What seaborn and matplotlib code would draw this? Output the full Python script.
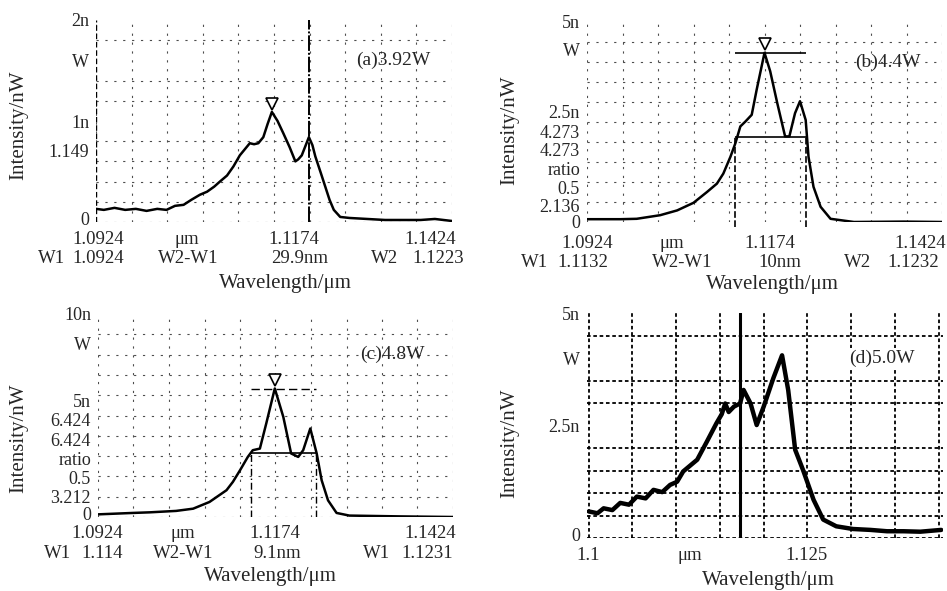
import numpy as np
import pandas as pd
import seaborn as sns
import matplotlib.pyplot as plt
import matplotlib.transforms as mtransforms

# spectra (wavelength in um, intensity in nW)
wl_a = [1.0924, 1.0935, 1.0950, 1.0965, 1.0980, 1.0995, 1.1010, 1.1023, 1.1035, 1.1047,
        1.1058, 1.1070, 1.1080, 1.1090, 1.1098, 1.1108, 1.1117, 1.1126, 1.1133, 1.1140,
        1.1146, 1.1152, 1.1159, 1.1165, 1.1171, 1.1179, 1.1187, 1.1196, 1.1204, 1.1208,
        1.1213, 1.1218, 1.1223, 1.1228, 1.1232, 1.1240, 1.1246, 1.1252, 1.1258, 1.1267,
        1.1280, 1.1305, 1.1330, 1.1351, 1.1380, 1.1400, 1.1424]
int_a = [0.13, 0.12, 0.14, 0.12, 0.13, 0.11, 0.13, 0.12, 0.16, 0.17,
         0.22, 0.27, 0.30, 0.35, 0.40, 0.46, 0.55, 0.66, 0.72, 0.78,
         0.77, 0.78, 0.84, 0.97, 1.09, 1.00, 0.88, 0.74, 0.60, 0.62,
         0.66, 0.75, 0.84, 0.76, 0.65, 0.48, 0.35, 0.22, 0.12, 0.05,
         0.04, 0.03, 0.02, 0.02, 0.02, 0.03, 0.01]

wl_b = [1.0924, 1.0971, 1.0994, 1.1027, 1.1051, 1.1074, 1.1093, 1.1107, 1.1116, 1.1126,
        1.1133, 1.1140, 1.1147, 1.1156, 1.1163, 1.1174, 1.1182, 1.1192, 1.1203, 1.1209,
        1.1217, 1.1224, 1.1232, 1.1236, 1.1243, 1.1253, 1.1267, 1.1300, 1.1370, 1.1424]
int_b = [0.07, 0.07, 0.08, 0.17, 0.29, 0.48, 0.75, 0.96, 1.21, 1.63,
         1.97, 2.39, 2.51, 2.68, 3.31, 4.23, 3.77, 2.97, 2.14, 2.14,
         2.72, 3.02, 2.55, 1.63, 0.88, 0.38, 0.08, 0.00, 0.01, 0.00]

wl_c = [1.0924, 1.0973, 1.0997, 1.1034, 1.1058, 1.1081, 1.1105, 1.1114, 1.1124, 1.1135,
        1.1142, 1.1152, 1.1161, 1.1173, 1.1185, 1.1196, 1.1206, 1.1213, 1.1223, 1.1232,
        1.1239, 1.1248, 1.1260, 1.1278, 1.1349, 1.1424]
int_c = [0.13, 0.20, 0.23, 0.30, 0.41, 0.74, 1.32, 1.73, 2.30, 2.96,
         3.29, 3.37, 4.61, 6.33, 4.93, 3.13, 2.96, 3.29, 4.36, 3.13,
         1.81, 0.82, 0.20, 0.07, 0.03, 0.00]

wl_d = [1.1000, 1.1010, 1.1017, 1.1027, 1.1036, 1.1046, 1.1055, 1.1065, 1.1074, 1.1084,
        1.1093, 1.1101, 1.1108, 1.1124, 1.1135, 1.1146, 1.1152, 1.1156, 1.1160, 1.1166,
        1.1173, 1.1177, 1.1185, 1.1192, 1.1200, 1.1211, 1.1221, 1.1228, 1.1236, 1.1245,
        1.1257, 1.1268, 1.1283, 1.1302, 1.1322, 1.1341, 1.1360, 1.1379, 1.1403]
int_d = [0.59, 0.55, 0.66, 0.62, 0.78, 0.74, 0.92, 0.88, 1.07, 1.02,
         1.18, 1.25, 1.48, 1.74, 2.14, 2.55, 2.75, 2.99, 2.80, 2.92,
         2.99, 3.29, 2.99, 2.51, 2.92, 3.55, 4.06, 3.29, 1.96, 1.51,
         0.85, 0.41, 0.26, 0.20, 0.18, 0.15, 0.15, 0.14, 0.18]

# W1 / W2 markers of each screen
w1_a, w2_a = 1.0924, 1.1223
w1_b, w2_b = 1.1132, 1.1232
w1_c, w2_c = 1.1140, 1.1231
mark_d = 1.1173

# left-hand screen annotations (text, value on the intensity axis)
ylab_a = ['2n', 'W', '1n', '1.149', '0']
yval_a = [2.0, 1.6, 1.0, 0.71, 0.03]
ylab_b = ['5n', 'W', '2.5n', '4.273', '4.273', 'ratio', '0.5', '2.136', '0']
yval_b = [5.0, 4.3, 2.77, 2.26, 1.80, 1.34, 0.86, 0.42, 0.0]
ylab_c = ['10n', 'W', '5n', '6.424', '6.424', 'ratio', '0.5', '3.212', '0']
yval_c = [10.0, 8.55, 5.76, 4.80, 3.80, 2.88, 1.97, 1.02, 0.15]
ylab_d = ['5n', 'W', '2.5n', '0']
yval_d = [5.0, 4.0, 2.5, 0.08]

titles = ['(a)3.92W', '(b)4.4W', '(c)4.8W', '(d)5.0W']

# readout rows under each screen
row1_a = ['1.0924', 'μm', '1.1174', '1.1424']
row2_a = ['W1', '1.0924', 'W2-W1', '29.9nm', 'W2', '1.1223']
row1_b = ['1.0924', 'μm', '1.1174', '1.1424']
row2_b = ['W1', '1.1132', 'W2-W1', '10nm', 'W2', '1.1232']
row1_c = ['1.0924', 'μm', '1.1174', '1.1424']
row2_c = ['W1', '1.114', 'W2-W1', '9.1nm', 'W1', '1.1231']
row1_d = ['1.1', 'μm', '1.125']

sns.set_theme(style="white")
plt.rcParams['font.family'] = ['Liberation Serif', 'DejaVu Serif']

W, H = 947, 591
fig = plt.figure(figsize=(9.47, 5.91), dpi=100)


def px_axes(l, t, r, b):
    return fig.add_axes([l / W, 1 - b / H, (r - l) / W, (b - t) / H])


def ftext(x, y, s, ha='center', **kw):
    kw.setdefault('fontsize', 13.5)
    fig.text(x / W, 1 - y / H, s, ha=ha, va='center', **kw)


ax_a = px_axes(96, 20, 452, 222)
ax_b = px_axes(587, 22, 942, 222)
ax_c = px_axes(98, 314, 453, 517)
ax_d = px_axes(587, 313, 943, 538)

spectra = [(ax_a, wl_a, int_a, 2.0, ylab_a, yval_a),
           (ax_b, wl_b, int_b, 5.0, ylab_b, yval_b),
           (ax_c, wl_c, int_c, 10.0, ylab_c, yval_c),
           (ax_d, wl_d, int_d, 5.0, ylab_d, yval_d)]

for i, (ax, wl, inten, ymax, ylab, yval) in enumerate(spectra):
    df = pd.DataFrame({'wl': wl, 'I': inten})
    lw = 3.2 if i == 3 else 1.8
    sns.lineplot(data=df, x='wl', y='I', ax=ax, color='black', lw=lw,
                 estimator=None, sort=False)
    if i == 3:
        ax.set_xlim(1.0998, 1.1405)
        ax.set_xticks(np.arange(1.1, 1.1401, 0.005), minor=True)
        ax.grid(True, which='minor', color='black', lw=1.3, ls=(0, (2, 1.5)))
    else:
        ax.set_xlim(1.0924, 1.1424)
        ax.set_xticks(np.linspace(1.0924, 1.1424, 11), minor=True)
        ax.grid(True, which='minor', color='0.3', lw=0.8, ls=(0, (2, 6)))
    ax.set_ylim(0, ymax)
    ax.set_yticks(np.linspace(0, ymax, 11), minor=True)
    ax.set_xticks([])
    ax.set_yticks(yval, ylab, fontsize=13)
    ax.tick_params(which='both', length=0, pad=5)
    ax.set_xlabel('')
    ax.set_ylabel('')
    sns.despine(ax=ax, left=True, bottom=True)
    ax.set_axisbelow(True)
    ax.text(0.94 if i < 2 else 0.92, 0.80, titles[i], transform=ax.transAxes,
            ha='right', va='center', fontsize=14,
            bbox=dict(fc='white', ec='none', pad=1) if i == 3 else None)

    if i < 3:
        # peak marker just above the maximum
        k = int(np.argmax(inten))
        off = mtransforms.ScaledTranslation(0, 6 / 72, fig.dpi_scale_trans)
        ax.plot(wl[k], inten[k], marker='v', ms=8, mfc='white', mec='black',
                mew=1.2, transform=ax.transData + off, clip_on=False)

# (a) W1 / W2 lines across the screen
ax_a.axvline(w1_a, color='black', lw=1.0, ls=(0, (4, 2)))
ax_a.axvline(w2_a, color='black', lw=1.4, ls=(0, (8, 1, 1, 1)))

# (b) peak level and half-maximum bracket
pk_b = max(int_b)
ax_b.hlines(pk_b, w1_b, w2_b, color='black', lw=1.2)
ax_b.hlines(pk_b / 2, w1_b, w2_b, color='black', lw=1.2)
ax_b.vlines([w1_b, w2_b], -0.12, pk_b / 2, color='black', lw=1.2,
            ls=(0, (4, 1.5)), clip_on=False)

# (c) same bracket, dashed peak level
pk_c = max(int_c)
ax_c.hlines(pk_c, w1_c, w2_c, color='black', lw=1.0, ls=(0, (6, 3)))
ax_c.hlines(pk_c / 2, w1_c, w2_c, color='black', lw=1.2)
ax_c.vlines([w1_c, w2_c], 0, pk_c / 2, color='black', lw=1.0,
            ls=(0, (5, 2, 1, 2)))

# (d) marker line
ax_d.axvline(mark_d, color='black', lw=2.2)

# readout rows
for x, s in zip([98, 187, 294, 430], row1_a):
    ftext(x, 240, s)
for x, s in zip([52, 98, 188, 300, 385, 438], row2_a):
    ftext(x, 259, s)
for x, s in zip([587, 672, 770, 920], row1_b):
    ftext(x, 243, s)
for x, s in zip([535, 583, 682, 780, 858, 913], row2_b):
    ftext(x, 262, s)
for x, s in zip([97, 183, 275, 430], row1_c):
    ftext(x, 533, s)
for x, s in zip([58, 102, 183, 277, 377, 427], row2_c):
    ftext(x, 553, s)
for x, s in zip([588, 690, 807], row1_d):
    ftext(x, 555, s)

# axis titles
for x, y in [(285, 283), (772, 285), (270, 577), (768, 580)]:
    ftext(x, y, 'Wavelength/μm', fontsize=15)
for x, y in [(19, 125), (510, 130), (19, 438), (510, 443)]:
    ftext(x, y, 'Intensity/nW', fontsize=15, rotation=90)

fig.savefig('out.png', dpi=100)
